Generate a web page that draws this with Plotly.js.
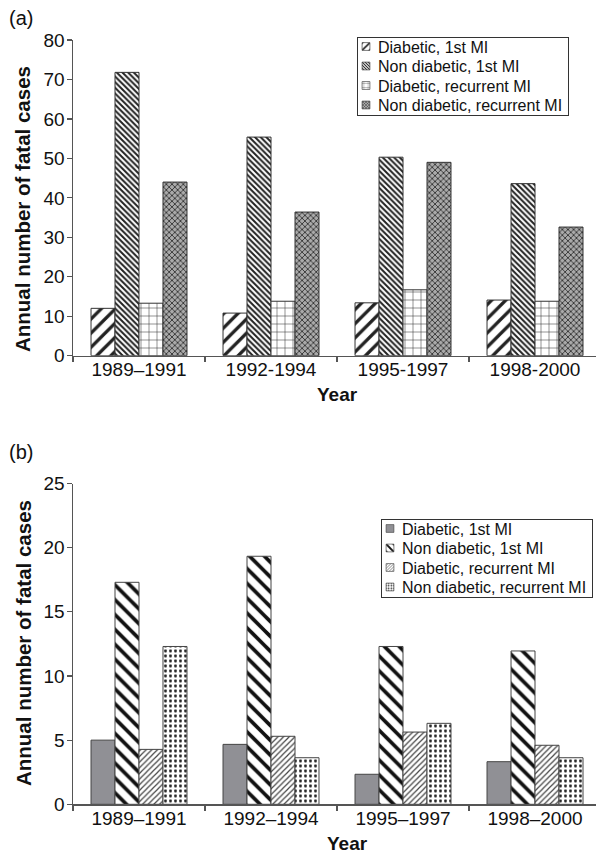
<!DOCTYPE html>
<html>
<head>
<meta charset="utf-8">
<script src="https://cdn.plot.ly/plotly-3.0.1.min.js"></script>
<style>html,body{margin:0;padding:0;background:#fff;}#chart{width:596px;height:854px;}</style>
</head>
<body>
<div id="chart"></div>
<script>
// ---- data ----
var seriesNames = ["Diabetic, 1st MI", "Non diabetic, 1st MI", "Diabetic, recurrent MI", "Non diabetic, recurrent MI"];

// panel (a)
var periodsA = ["1989\u20131991", "1992-1994", "1995-1997", "1998-2000"];
var a_diab1st   = [12.0, 10.8, 13.4, 14.1];
var a_nondiab1st = [71.8, 55.4, 50.3, 43.6];
var a_diabRec   = [13.3, 13.8, 16.7, 13.8];
var a_nondiabRec = [44.0, 36.4, 49.0, 32.6];

// panel (b)
var periodsB = ["1989\u20131991", "1992\u20131994", "1995\u20131997", "1998\u20132000"];
var b_diab1st   = [5.0, 4.67, 2.34, 3.32];
var b_nondiab1st = [17.3, 19.33, 12.3, 11.95];
var b_diabRec   = [4.28, 5.3, 5.63, 4.6];
var b_nondiabRec = [12.3, 3.63, 6.31, 3.63];

// ---- helpers ----
var W = 596, H = 854;
function px(x){ return x / W; }
function py(y){ return 1 - y / H; }
var FONT = "Liberation Sans, Arial, sans-serif";

var edge = {color: "#333", width: 1};
var pattA = [
  {shape: "/", size: 10, solidity: 0.33, fgcolor: "#222", bgcolor: "#fff"},
  {shape: "\\", size: 4, solidity: 0.5, fgcolor: "#222", bgcolor: "#fff"},
  {shape: "+", size: 8, solidity: 0.13, fgcolor: "#333", bgcolor: "#fff"},
  {shape: "x", size: 4, solidity: 0.4, fgcolor: "#333", bgcolor: "#aaa"}
];
var pattB = [
  null,
  {shape: "\\", size: 10.5, solidity: 0.35, fgcolor: "#111", bgcolor: "#fff"},
  {shape: "/", size: 4, solidity: 0.3, fgcolor: "#444", bgcolor: "#fff"},
  {shape: ".", size: 5, solidity: 0.28, fgcolor: "#222", bgcolor: "#fff"}
];

var dataA = [a_diab1st, a_nondiab1st, a_diabRec, a_nondiabRec];
var dataB = [b_diab1st, b_nondiab1st, b_diabRec, b_nondiabRec];

var traces = [];
for (var i = 0; i < 4; i++) {
  traces.push({
    type: "bar", x: periodsA, y: dataA[i], name: seriesNames[i],
    xaxis: "x", yaxis: "y", legend: "legend",
    marker: {color: "#fff", line: edge, pattern: pattA[i]}
  });
}
for (var j = 0; j < 4; j++) {
  var m = {color: j === 0 ? "#909095" : "#fff", line: {color: "#444", width: 1}};
  if (pattB[j]) m.pattern = pattB[j];
  traces.push({
    type: "bar", x: periodsB, y: dataB[j], name: seriesNames[j],
    xaxis: "x2", yaxis: "y2", legend: "legend2",
    marker: m
  });
}

var tickFont = {family: FONT, size: 19, color: "#111"};
var axisCommon = {
  showgrid: false, zeroline: false, showline: true, linecolor: "#555", linewidth: 1.5,
  ticks: "outside", ticklen: 5, tickcolor: "#555", tickwidth: 1.2, tickfont: tickFont
};

var legendCommon = {
  xanchor: "left", yanchor: "top",
  bordercolor: "#333", borderwidth: 1, bgcolor: "#fff",
  font: {size: 16, family: FONT, color: "#111"},
  tracegroupgap: 0, traceorder: "normal"
};

var layout = {
  width: W, height: H,
  margin: {l: 0, r: 0, t: 0, b: 0, autoexpand: false},
  paper_bgcolor: "#fff", plot_bgcolor: "#fff",
  barmode: "group", bargap: 0.273, bargroupgap: 0,
  showlegend: true,
  font: {family: FONT, color: "#111"},
  xaxis: Object.assign({}, axisCommon, {
    domain: [px(73), 1], anchor: "y", type: "category",
    range: [-0.5, 3.462], tickson: "boundaries", ticklabelstandoff: -4
  }),
  yaxis: Object.assign({}, axisCommon, {
    domain: [py(355.7), py(40)], anchor: "x", range: [0, 80], dtick: 10, tick0: 0, ticklabelstandoff: -2
  }),
  xaxis2: Object.assign({}, axisCommon, {
    domain: [px(73), 1], anchor: "y2", type: "category",
    range: [-0.5, 3.462], tickson: "boundaries", ticklabelstandoff: -4
  }),
  yaxis2: Object.assign({}, axisCommon, {
    domain: [py(804.3), py(483.5)], anchor: "x2", range: [0, 25], dtick: 5, tick0: 0, ticklabelstandoff: -2
  }),
  // legends are placed 20px left of the final box; the compaction step trims that space
  legend: Object.assign({}, legendCommon, {x: px(337), y: py(37)}),
  legend2: Object.assign({}, legendCommon, {x: px(361), y: py(519)}),
  annotations: [
    {text: "(a)", x: px(7), y: py(18), xref: "paper", yref: "paper", xanchor: "left", yanchor: "middle", showarrow: false,
     font: {size: 20, family: FONT, color: "#111"}},
    {text: "(b)", x: px(7), y: py(452), xref: "paper", yref: "paper", xanchor: "left", yanchor: "middle", showarrow: false,
     font: {size: 20, family: FONT, color: "#111"}},
    {text: "<b>Annual number of fatal cases</b>", x: px(23), y: py(209), xref: "paper", yref: "paper", xanchor: "center", yanchor: "middle",
     textangle: -90, showarrow: false, font: {size: 20.5, family: FONT, color: "#111"}},
    {text: "<b>Annual number of fatal cases</b>", x: px(23), y: py(643), xref: "paper", yref: "paper", xanchor: "center", yanchor: "middle",
     textangle: -90, showarrow: false, font: {size: 20.5, family: FONT, color: "#111"}},
    {text: "<b>Year</b>", x: px(337), y: py(394), xref: "paper", yref: "paper", xanchor: "center", yanchor: "middle", showarrow: false,
     font: {size: 19, family: FONT, color: "#111"}},
    {text: "<b>Year</b>", x: px(347), y: py(843), xref: "paper", yref: "paper", xanchor: "center", yanchor: "middle", showarrow: false,
     font: {size: 19, family: FONT, color: "#111"}}
  ]
};

// compact the legend boxes (tighter rows, symbol close to the left border)
function compactLegends(gd) {
  var legs = gd.querySelectorAll(".infolayer > g");
  legs.forEach(function (leg) {
    var cls = leg.getAttribute("class") || "";
    if (cls.indexOf("legend") !== 0) return;
    var items = leg.querySelectorAll("g.traces");
    if (!items.length) return;
    var step = 19.5, trim = 20, firstY = 9.5;
    var lastNew = 0;
    items.forEach(function (it, k) {
      var t = it.getAttribute("transform") || "";
      var mm = /translate\(\s*([-\d.]+)[ ,]+([-\d.]+)\s*\)/.exec(t);
      if (!mm) return;
      var x = parseFloat(mm[1]);
      var ny = firstY + k * step;
      lastNew = ny;
      it.setAttribute("transform", "translate(" + x + "," + ny + ")");
      var pts = it.querySelectorAll(".legendpoints path");
      pts.forEach(function (p) {
        p.setAttribute("transform", "translate(28,0) scale(0.65)");
      });
    });
    var bg = leg.querySelector("rect.bg");
    if (bg) {
      var w = parseFloat(bg.getAttribute("width"));
      var bx = parseFloat(bg.getAttribute("x") || "0");
      bg.setAttribute("x", bx + trim);
      bg.setAttribute("width", w - trim);
      bg.setAttribute("height", lastNew + 10);
    }
  });
}

Plotly.newPlot("chart", traces, layout, {displayModeBar: false, staticPlot: true}).then(function (gd) {
  compactLegends(gd);
});
</script>
</body>
</html>
